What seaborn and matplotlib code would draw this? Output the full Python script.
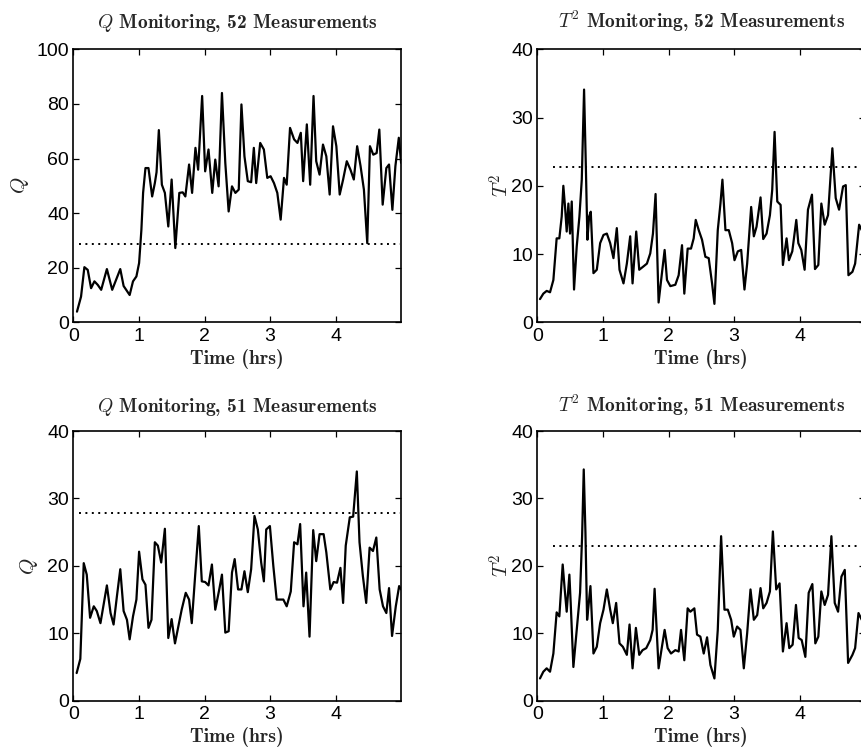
import numpy as np
import pandas as pd
import matplotlib
matplotlib.use("Agg")
import matplotlib.pyplot as plt
import seaborn as sns

# ---------------- data ----------------
q52_t = [0.056, 0.118, 0.169, 0.220, 0.271, 0.322, 0.373, 0.425, 0.512, 0.593, 0.716, 0.767, 0.859, 0.910,
         0.962, 1.003, 1.038, 1.064, 1.100, 1.146, 1.202, 1.243, 1.269, 1.304, 1.350, 1.396, 1.448, 1.499,
         1.555, 1.616, 1.668, 1.708, 1.765, 1.811, 1.862, 1.903, 1.964, 2.010, 2.061, 2.118, 2.164, 2.215,
         2.266, 2.317, 2.368, 2.419, 2.471, 2.522, 2.563, 2.609, 2.660, 2.711, 2.752, 2.788, 2.849, 2.905,
         2.957, 3.008, 3.059, 3.110, 3.161, 3.212, 3.253, 3.304, 3.366, 3.417, 3.468, 3.504, 3.560, 3.611,
         3.662, 3.703, 3.754, 3.806, 3.857, 3.908, 3.959, 4.010, 4.061, 4.113, 4.169, 4.225, 4.276, 4.327,
         4.379, 4.430, 4.481, 4.522, 4.573, 4.624, 4.665, 4.716, 4.772, 4.813, 4.864, 4.910, 4.962, 4.997]
q52_v = [3.9, 9.4, 20.2, 19.2, 12.5, 15.0, 13.7, 11.9, 19.5, 11.9, 19.5, 13.3, 10.0, 15.0,
         16.8, 21.7, 33.9, 47.4, 56.5, 56.5, 46.1, 51.0, 55.0, 70.4, 50.4, 47.4, 35.1, 52.3,
         27.2, 47.4, 47.6, 46.1, 57.8, 47.4, 63.9, 55.9, 82.9, 55.3, 63.3, 47.4, 59.6, 49.8,
         84.0, 58.4, 40.6, 49.8, 47.4, 48.6, 79.8, 60.8, 51.7, 51.3, 63.9, 51.0, 65.7, 63.3,
         52.9, 53.5, 51.0, 47.4, 37.6, 52.9, 50.4, 71.2, 67.0, 65.7, 69.4, 51.7, 72.5, 50.4,
         82.9, 59.0, 54.1, 65.1, 60.8, 46.8, 71.8, 64.5, 46.8, 52.3, 59.0, 55.9, 52.3, 64.5,
         57.2, 48.6, 29.0, 64.5, 61.4, 62.0, 70.6, 43.1, 56.5, 57.8, 41.2, 57.2, 67.6, 58.4]

t2_52_t = [0.041, 0.092, 0.143, 0.194, 0.245, 0.295, 0.336, 0.372, 0.397, 0.423, 0.448, 0.474, 0.499, 0.525,
           0.560, 0.601, 0.642, 0.678, 0.713, 0.739, 0.764, 0.790, 0.815, 0.856, 0.907, 0.958, 1.009, 1.060,
           1.111, 1.161, 1.212, 1.253, 1.314, 1.365, 1.416, 1.452, 1.508, 1.554, 1.620, 1.671, 1.722, 1.763,
           1.803, 1.849, 1.900, 1.941, 1.977, 2.028, 2.104, 2.155, 2.206, 2.241, 2.292, 2.343, 2.384, 2.415,
           2.461, 2.511, 2.562, 2.613, 2.664, 2.700, 2.751, 2.792, 2.822, 2.868, 2.919, 2.970, 3.006, 3.057,
           3.108, 3.158, 3.199, 3.260, 3.301, 3.342, 3.403, 3.444, 3.495, 3.546, 3.581, 3.617, 3.658, 3.709,
           3.744, 3.800, 3.836, 3.887, 3.948, 3.979, 4.024, 4.075, 4.126, 4.187, 4.233, 4.284, 4.330, 4.381,
           4.432, 4.498, 4.549, 4.600, 4.661, 4.702, 4.743, 4.804, 4.845, 4.906, 4.946, 4.990]
t2_52_v = [3.4, 4.2, 4.6, 4.4, 6.2, 12.3, 12.3, 15.5, 20.0, 16.9, 13.3, 17.4, 13.0, 17.7,
           4.8, 11.1, 15.5, 20.9, 34.1, 23.3, 12.1, 15.5, 16.2, 7.2, 7.7, 11.6, 12.8, 13.0,
           11.6, 9.4, 13.8, 7.7, 5.7, 8.6, 12.6, 5.7, 13.3, 7.7, 8.2, 8.6, 10.1, 13.0,
           18.8, 2.9, 7.2, 10.6, 6.2, 5.3, 5.5, 6.9, 11.3, 4.2, 10.8, 10.8, 12.3, 15.0,
           13.5, 12.1, 9.6, 9.4, 5.7, 2.7, 13.5, 17.4, 20.9, 13.5, 13.5, 11.6, 9.1, 10.4,
           10.6, 4.8, 8.6, 16.9, 12.6, 14.0, 18.3, 12.2, 13.0, 15.7, 19.4, 27.9, 17.7, 17.2,
           8.4, 12.3, 9.1, 10.4, 15.0, 11.6, 10.6, 7.7, 16.5, 18.7, 7.8, 8.4, 17.4, 14.3,
           15.7, 25.5, 18.2, 16.5, 19.9, 20.1, 6.9, 7.4, 8.6, 14.3, 13.5, 13.0]

q51_t = [0.051, 0.107, 0.159, 0.205, 0.256, 0.312, 0.358, 0.414, 0.512, 0.568, 0.614, 0.665, 0.716, 0.767,
         0.818, 0.859, 0.910, 0.962, 1.003, 1.054, 1.100, 1.146, 1.192, 1.243, 1.289, 1.340, 1.396, 1.448,
         1.499, 1.550, 1.601, 1.652, 1.714, 1.765, 1.806, 1.857, 1.913, 1.959, 2.010, 2.061, 2.113, 2.164,
         2.225, 2.266, 2.317, 2.368, 2.419, 2.460, 2.512, 2.563, 2.609, 2.660, 2.711, 2.762, 2.813, 2.864,
         2.905, 2.941, 2.997, 3.049, 3.100, 3.151, 3.202, 3.253, 3.315, 3.366, 3.417, 3.458, 3.509, 3.550,
         3.601, 3.657, 3.703, 3.754, 3.816, 3.857, 3.918, 3.969, 4.020, 4.072, 4.113, 4.153, 4.215, 4.266,
         4.322, 4.363, 4.414, 4.465, 4.517, 4.568, 4.619, 4.670, 4.721, 4.772, 4.813, 4.859, 4.916, 4.967,
         4.997]
q51_v = [4.1, 6.2, 20.4, 18.7, 12.3, 14.0, 13.3, 11.5, 17.1, 13.0, 11.3, 15.5, 19.5, 13.3,
         12.0, 9.1, 12.5, 15.0, 22.1, 18.0, 17.2, 10.8, 12.0, 23.5, 23.0, 20.5, 25.5, 9.3,
         12.1, 8.5, 11.0, 13.5, 16.0, 15.0, 11.5, 18.5, 25.9, 17.7, 17.6, 17.1, 20.2, 13.5,
         16.5, 18.7, 10.1, 10.3, 19.0, 21.0, 16.5, 16.5, 19.2, 16.1, 19.5, 27.4, 25.4, 20.5,
         17.7, 25.4, 25.9, 20.0, 15.0, 15.0, 15.0, 14.0, 16.2, 23.5, 23.2, 26.2, 14.0, 19.0,
         9.5, 25.3, 20.7, 24.7, 24.7, 22.0, 16.5, 17.6, 17.5, 19.7, 14.5, 23.0, 27.2, 27.3,
         34.0, 23.5, 18.5, 14.5, 22.7, 22.2, 24.2, 16.5, 14.0, 13.0, 16.7, 9.6, 14.0, 17.0,
         16.5]

t2_51_t = [0.041, 0.092, 0.143, 0.194, 0.245, 0.295, 0.336, 0.387, 0.418, 0.448, 0.489, 0.509, 0.550, 0.601,
           0.652, 0.683, 0.708, 0.734, 0.759, 0.785, 0.810, 0.856, 0.907, 0.958, 1.009, 1.060, 1.111, 1.151,
           1.202, 1.253, 1.304, 1.365, 1.406, 1.452, 1.503, 1.554, 1.605, 1.661, 1.722, 1.758, 1.788, 1.849,
           1.900, 1.941, 1.987, 2.038, 2.104, 2.155, 2.191, 2.241, 2.292, 2.333, 2.394, 2.435, 2.486, 2.537,
           2.588, 2.639, 2.700, 2.751, 2.802, 2.853, 2.904, 2.955, 2.995, 3.046, 3.097, 3.148, 3.199, 3.250,
           3.301, 3.352, 3.403, 3.444, 3.495, 3.546, 3.591, 3.642, 3.693, 3.744, 3.800, 3.841, 3.892, 3.943,
           3.984, 4.030, 4.086, 4.137, 4.193, 4.238, 4.284, 4.330, 4.381, 4.432, 4.483, 4.534, 4.585, 4.636,
           4.687, 4.738, 4.804, 4.845, 4.896, 4.946, 4.990]
t2_51_v = [3.3, 4.3, 4.8, 4.3, 7.0, 13.1, 12.5, 20.2, 16.5, 13.2, 18.7, 14.5, 5.0, 10.5,
           16.0, 24.4, 34.3, 24.9, 12.0, 14.5, 17.0, 7.0, 8.0, 11.5, 13.5, 16.5, 13.5, 11.5,
           14.5, 8.5, 8.0, 6.8, 11.3, 4.8, 10.8, 6.8, 7.5, 7.8, 9.0, 10.5, 16.6, 4.8,
           8.0, 10.5, 7.8, 7.0, 7.5, 7.3, 10.5, 6.0, 13.7, 13.2, 13.7, 9.8, 9.5, 7.0,
           9.4, 5.3, 3.3, 10.5, 24.4, 13.5, 13.5, 12.0, 9.5, 11.0, 10.5, 4.8, 10.0, 16.5,
           12.0, 12.7, 16.7, 13.7, 14.5, 16.2, 25.1, 16.5, 17.4, 7.3, 11.5, 7.8, 8.3, 14.2,
           9.3, 9.0, 6.5, 16.0, 17.3, 8.5, 9.5, 16.2, 14.2, 15.7, 24.4, 14.5, 13.2, 18.4,
           19.4, 5.6, 6.8, 7.8, 13.0, 12.0, 11.5]

# control limits (dotted lines) and their time spans
q52_limit = 28.8
t2_52_limit = 22.8
q51_limit = 27.9
t2_51_limit = 23.0
limit_span_left = [0.09, 4.98]
limit_span_right = [0.24, 4.98]

titles = [r"$Q$ Monitoring, 52 Measurements", r"$T^2$ Monitoring, 52 Measurements",
          r"$Q$ Monitoring, 51 Measurements", r"$T^2$ Monitoring, 51 Measurements"]
ylabels = [r"$Q$", r"$T^2$", r"$Q$", r"$T^2$"]
xlabel = "Time (hrs)"
xticks = [0, 1, 2, 3, 4]
yticks_q52 = [0, 20, 40, 60, 80, 100]
yticks_40 = [0, 10, 20, 30, 40]

# ---------------- styling ----------------
sns.set_theme(style="ticks")
plt.rcParams.update({
    "font.family": ["Liberation Sans", "DejaVu Sans"],
    "mathtext.fontset": "cm",
    "axes.edgecolor": "black",
    "axes.linewidth": 1.2,
    "xtick.direction": "in",
    "ytick.direction": "in",
    "xtick.top": True,
    "ytick.right": True,
    "xtick.major.size": 4,
    "ytick.major.size": 4,
    "xtick.major.width": 0.9,
    "ytick.major.width": 0.9,
    "xtick.color": "black",
    "ytick.color": "black",
    "xtick.labelsize": 14,
    "ytick.labelsize": 14,
})

W, H = 861, 753
fig = plt.figure(figsize=(W / 100, H / 100), dpi=100)

def rect(x0, y_top, x1, y_bot):
    return [x0 / W, 1 - y_bot / H, (x1 - x0) / W, (y_bot - y_top) / H]

panels = [
    dict(t=q52_t, v=q52_v, lim=q52_limit, span=limit_span_left, yt=yticks_q52,
         r=rect(73.3, 49.3, 401.3, 322.3), ylx=-0.13, tpad=15),
    dict(t=t2_52_t, v=t2_52_v, lim=t2_52_limit, span=limit_span_right, yt=yticks_40,
         r=rect(537.3, 49.3, 865.3, 322.3), ylx=-0.075, tpad=15),
    dict(t=q51_t, v=q51_v, lim=q51_limit, span=limit_span_left, yt=yticks_40,
         r=rect(73.3, 431.0, 401.3, 700.7), ylx=-0.10, tpad=14),
    dict(t=t2_51_t, v=t2_51_v, lim=t2_51_limit, span=limit_span_right, yt=yticks_40,
         r=rect(537.3, 431.0, 865.3, 700.7), ylx=-0.075, tpad=14),
]

for i, p in enumerate(panels):
    ax = fig.add_axes(p["r"])
    df = pd.DataFrame({"t": p["t"], "v": p["v"]})
    sns.lineplot(data=df, x="t", y="v", ax=ax, color="black", linewidth=1.6,
                 estimator=None, sort=False)
    ax.plot(p["span"], [p["lim"], p["lim"]], color="black", linewidth=1.4,
            linestyle=(0, (1.0, 2.3)))
    ax.set_xlim(0, 5.0)
    ax.set_ylim(p["yt"][0], p["yt"][-1])
    ax.set_xticks(xticks)
    ax.set_yticks(p["yt"])
    ax.tick_params(axis="y", pad=3)
    ax.tick_params(axis="x", pad=4)
    ax.set_title(titles[i], fontfamily="cmb10", fontsize=14, pad=p["tpad"])
    ax.set_xlabel(xlabel, fontfamily="cmb10", fontsize=14.2, labelpad=3)
    ax.set_ylabel(ylabels[i], fontsize=15)
    ax.yaxis.set_label_coords(p["ylx"], 0.5)
    for s in ax.spines.values():
        s.set_color("black")

fig.savefig("out.png", dpi=100)
